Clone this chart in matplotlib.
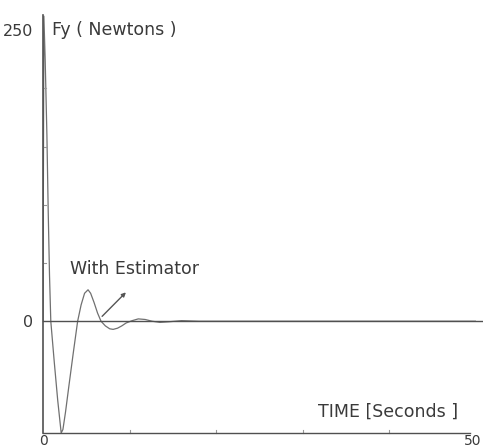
import numpy as np
import matplotlib
matplotlib.use('Agg')
from matplotlib import pyplot as plt

plt.rcParams['font.family'] = ['DejaVu Sans']

# force response with estimator, read point by point
t_sec = [0, 0.1, 0.25, 0.45, 0.6, 0.75, 0.9, 1.3, 1.7, 2.1, 2.3, 2.6, 3.0, 3.5, 4.0,
         4.4, 4.8, 5.2, 5.5, 5.9, 6.3, 6.7, 7.2, 7.7, 8.1, 8.6, 9.1, 9.6,
         10.3, 11.0, 11.8, 12.6, 13.5, 14.5, 16, 18, 22, 30, 40, 50]
fy = [0, 262, 225, 160, 95, 40, 0, -35, -68, -96, -93, -78, -55, -27, 0,
      14, 24, 27, 24, 16, 7, 0, -4, -6.5, -7, -6, -4, -1.5,
      0.5, 2, 1.5, 0, -1, -0.5, 0.5, 0, 0, 0, 0, 0]

y_ticks = [0, 250]
y_labels = ['0', '250']
x_ticks = [0, 50]
x_labels = ['0', '50']

W, H = 483, 447
fig = plt.figure(figsize=(W / 100, H / 100), dpi=100)
ax = fig.add_axes([43 / W, 1 - 433 / H, (476 - 43) / W, (433 - 15) / H])
ax.set_xlim(0, 50)
ax.set_ylim(-96, 263)

gray = '#505050'
fs = 12.5
tc = '#3a3a3a'
ax.plot(t_sec, fy, color='#707070', lw=0.9)
ax.axhline(0, color=gray, lw=1.0, xmin=-0.0, xmax=1.02, clip_on=False)

for s in ['top', 'right']:
    ax.spines[s].set_visible(False)
ax.spines['left'].set_color(gray)
ax.spines['bottom'].set_color(gray)
ax.spines['left'].set_linewidth(1.2)
ax.spines['bottom'].set_linewidth(1.0)
ax.spines['bottom'].set_bounds(0, 49.3)

ax.set_yticks(y_ticks)
ax.set_yticklabels(y_labels)
ax.set_xticks([])
ax.tick_params(axis='y', length=0, labelsize=11.5, labelcolor=tc, pad=7)

# x tick labels squeezed under the axis line
ax.text(x_ticks[0], -97, x_labels[0], fontsize=10, color=tc, ha='center', va='top')
ax.text(x_ticks[1] + 0.6, -97, x_labels[1], fontsize=10, color=tc, ha='right', va='top')

# small marks along the axes
for xm in [10, 20, 30, 40]:
    ax.plot([xm, xm], [-96, -93], color='#999999', lw=0.8, clip_on=False)
for ym in [50, 100, 150, 200]:
    ax.plot([0, 0.4], [ym, ym], color='#999999', lw=0.8)

ax.text(1.0, 250, 'Fy ( Newtons )', fontsize=fs, color=tc, va='center')
ax.text(31.8, -78, 'TIME [Seconds ]', fontsize=fs, color=tc, va='center')
ax.text(3.1, 45, 'With Estimator', fontsize=fs, color=tc, va='center')
ax.annotate('', xy=(9.8, 26.5), xytext=(6.6, 2.5),
            arrowprops=dict(arrowstyle='-|>', color='#555555', lw=1.0,
                            mutation_scale=6))

plt.savefig('out.png', dpi=100)
